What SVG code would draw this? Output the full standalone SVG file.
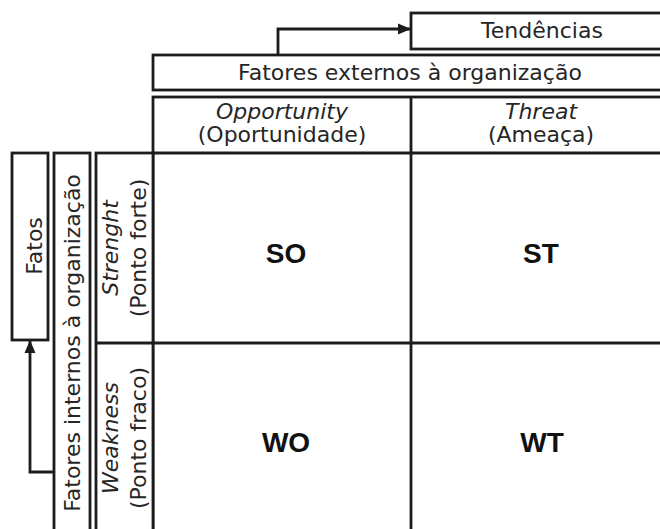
<svg xmlns="http://www.w3.org/2000/svg" width="660" height="529" viewBox="0 0 660 529">
<defs>
<style>
.box{fill:#fff;stroke:#1c1c1c;stroke-width:2.8}
.ln{fill:none;stroke:#1c1c1c;stroke-width:2.8}
.t{font-family:"DejaVu Sans",sans-serif;font-size:22px;fill:#262626;text-anchor:middle}
.i{font-style:italic}
.b{font-family:"Liberation Sans",Arial,sans-serif;font-size:28px;font-weight:bold;fill:#111;text-anchor:middle}
</style>
<marker id="ah" viewBox="0 0 13 13" refX="12" refY="6.5" markerWidth="13" markerHeight="13" markerUnits="userSpaceOnUse" orient="auto">
<path d="M0,1 L13,6.5 L0,12 Z" fill="#1c1c1c"/>
</marker>
</defs>
<rect width="660" height="529" fill="#fff"/>

<g id="tendencias">
<rect class="box" x="411" y="13" width="262" height="36"/>
<text class="t" x="542" y="38">Tendências</text>
</g>

<g id="fatores-externos">
<rect class="box" x="153" y="55" width="520" height="35"/>
<text class="t" x="410" y="80">Fatores externos à organização</text>
</g>

<g id="fatos">
<rect class="box" x="12" y="153" width="36" height="187"/>
<text class="t" transform="translate(42,246) rotate(-90)">Fatos</text>
</g>

<g id="fatores-internos">
<rect class="box" x="54" y="153" width="36" height="390"/>
<text class="t" transform="translate(80,343) rotate(-90)">Fatores internos à organização</text>
</g>

<g id="grid">
<rect class="box" x="153" y="97" width="520" height="440"/>
<line class="ln" x1="153" y1="153" x2="673" y2="153"/>
<line class="ln" x1="411" y1="97" x2="411" y2="537"/>
<line class="ln" x1="96" y1="343" x2="673" y2="343"/>
<rect class="box" x="96" y="153" width="57" height="384"/>
<line class="ln" x1="96" y1="343" x2="153" y2="343"/>
</g>

<g id="opportunity">
<text class="t i" x="282" y="119">Opportunity</text>
<text class="t" x="282" y="142">(Oportunidade)</text>
</g>
<g id="threat">
<text class="t i" x="541" y="119">Threat</text>
<text class="t" x="541" y="142">(Ameaça)</text>
</g>
<g id="strength">
<text class="t i" transform="translate(118,248) rotate(-90)">Strenght</text>
<text class="t" transform="translate(146,248) rotate(-90)">(Ponto forte)</text>
</g>
<g id="weakness">
<text class="t i" transform="translate(118,438) rotate(-90)">Weakness</text>
<text class="t" transform="translate(146,438) rotate(-90)">(Ponto fraco)</text>
</g>

<g id="so"><text class="b" x="286" y="263">SO</text></g>
<g id="st"><text class="b" x="541" y="263">ST</text></g>
<g id="wo"><text class="b" x="286" y="452">WO</text></g>
<g id="wt"><text class="b" x="542" y="452">WT</text></g>

<g id="connectors">
<polyline class="ln" points="278,55 278,29 410,29" marker-end="url(#ah)"/>
<polyline class="ln" points="54,472 30,472 30,341" marker-end="url(#ah)"/>
</g>
</svg>
